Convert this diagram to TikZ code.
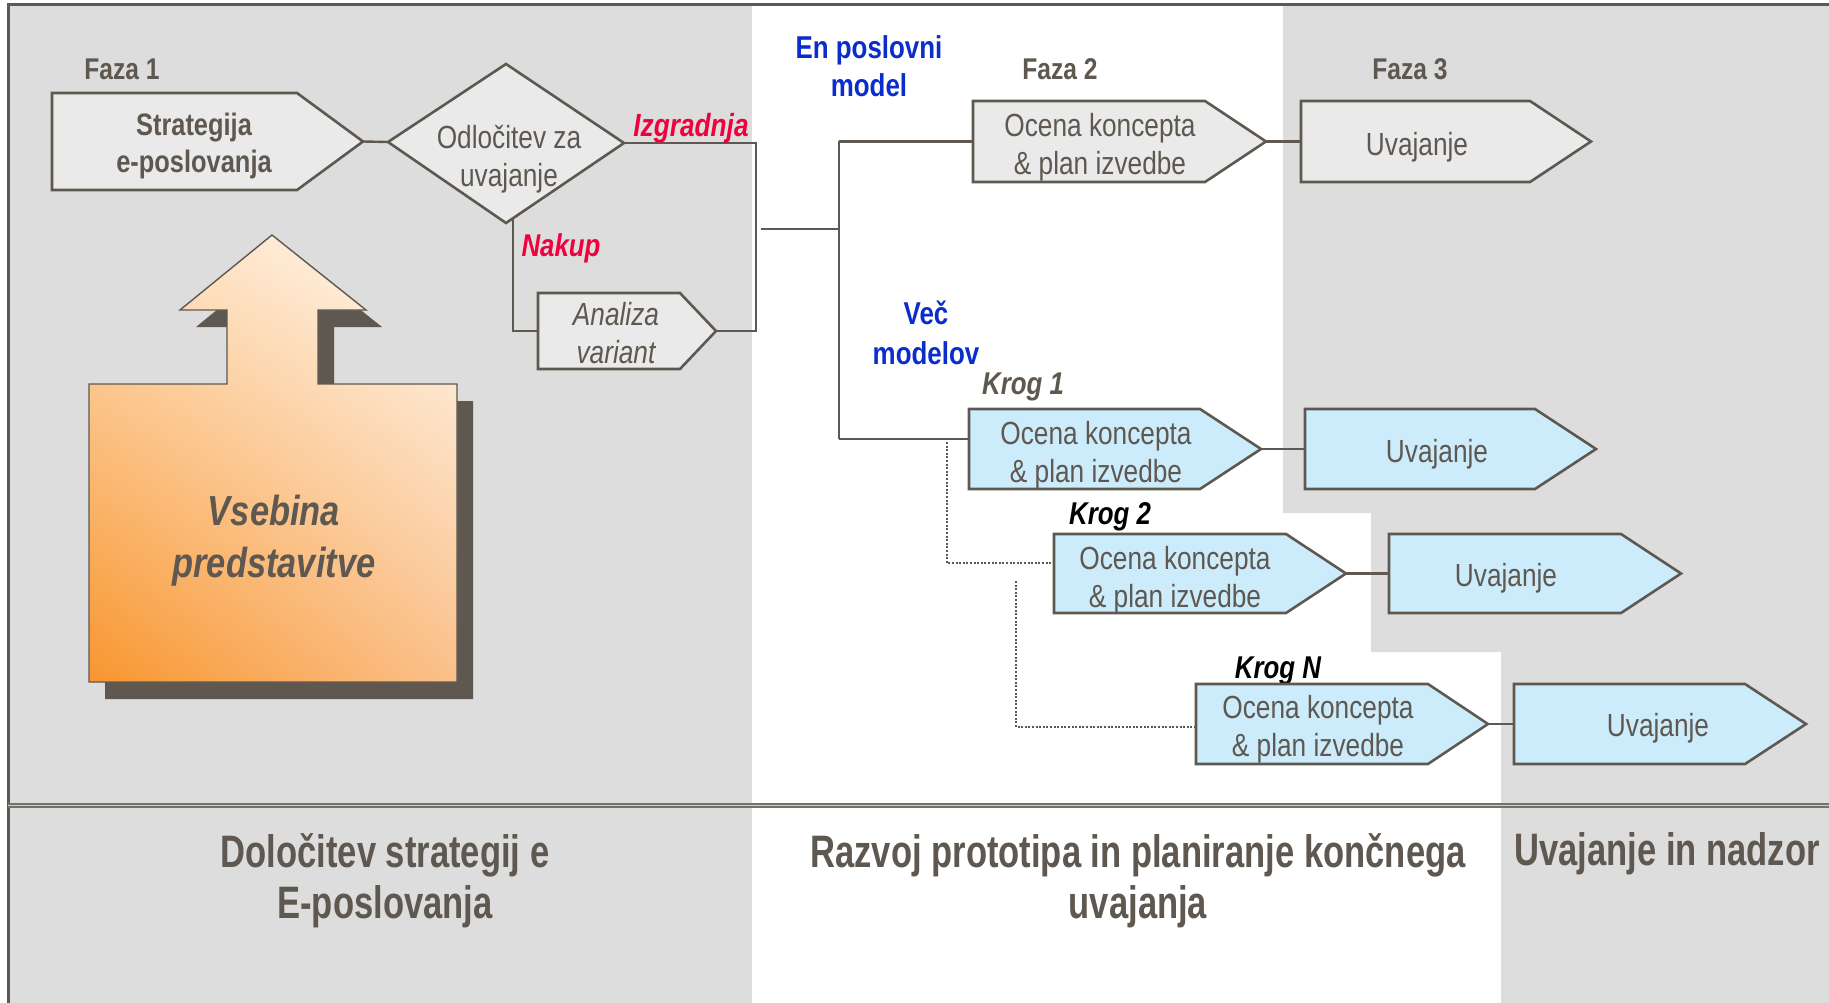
\documentclass[tikz,border=0pt]{standalone}
\usepackage{fontspec}
\usetikzlibrary{shadings}
\setmainfont{Liberation Sans}[FakeStretch=0.82]
\newfontfamily\bigfont{Liberation Sans}[FakeStretch=0.76]
\definecolor{tc}{RGB}{94,88,80}
\definecolor{lc}{RGB}{94,88,80}
\definecolor{bg}{RGB}{221,221,221}
\definecolor{boxgray}{RGB}{234,234,234}
\definecolor{boxblue}{RGB}{204,236,252}
\definecolor{redt}{RGB}{240,0,60}
\definecolor{bluet}{RGB}{10,45,204}
\definecolor{orLL}{HTML}{F8962F}
\definecolor{orUL}{HTML}{FEDDBA}
\definecolor{orUR}{HTML}{FFFAF2}
\definecolor{orLR}{HTML}{FAC08A}
\newcommand\pentbox[7]{%
  \draw[#7] (#2,#5) -- (#3,#5) -- (#4,{(#5+#6)/2}) -- (#3,#6) -- (#2,#6) -- cycle;
  \coordinate (#1-w) at (#2,{(#5+#6)/2});
  \coordinate (#1-e) at (#4,{(#5+#6)/2});
}
\newcommand\arrowpath{(272,235) -- (366,310) -- (318,310) -- (318,384) -- (457,384) -- (457,682) -- (89,682) -- (89,384) -- (227,384) -- (227,310) -- (180,310) -- cycle}
\tikzset{
  gbox/.style={draw=lc, line width=2.6pt, fill=boxgray, line join=miter},
  bbox/.style={draw=lc, line width=2.6pt, fill=boxblue, line join=miter},
  conn/.style={draw=lc, line width=2.4pt},
  dotconn/.style={draw=lc, line width=2pt, dash pattern=on 2pt off 1.6pt},
  treg/.style={text=tc, inner sep=0pt, align=center, font=\fontsize{32}{38}\selectfont},
  tregi/.style={text=tc, inner sep=0pt, align=center, font=\itshape\fontsize{32}{38}\selectfont},
  tbold/.style={text=tc, inner sep=0pt, align=center, font=\bfseries\fontsize{31}{37}\selectfont},
  tbi/.style={inner sep=0pt, align=center, font=\bfseries\itshape\fontsize{31.5}{37}\selectfont},
  tbig/.style={text=tc, inner sep=0pt, align=center, font=\bigfont\bfseries\fontsize{45.5}{51}\selectfont},
}
\begin{document}
\begin{tikzpicture}[x=1pt,y=-1pt]
\useasboundingbox (0,0) rectangle (1829,1003);
% backgrounds
\fill[white] (0,0) rectangle (1829,1003);
\fill[bg] (8,5) rectangle (752,1003);
\fill[bg] (1283,5) -- (1829,5) -- (1829,1003) -- (1501,1003) -- (1501,652) -- (1371,652) -- (1371,513) -- (1283,513) -- cycle;
\draw[lc, line width=3pt] (8,1003) -- (8,5) -- (1829,5);
\draw[lc!85!white, line width=5.5pt] (8,805.5) -- (1829,805.5);
\draw[white!70!lc, line width=1.2pt] (8,805.5) -- (1829,805.5);

% big arrow with shadow
\fill[lc, shift={(16,17)}] \arrowpath;
\shade[lower left=orLL, upper left=orUL, upper right=orUR, lower right=orLR] \arrowpath;
\draw[lc, line width=1.4pt] \arrowpath;
\node[tbi, text=tc, font=\bfseries\itshape\fontsize{42}{52}\selectfont] (vsebina) at (274,541) {Vsebina\\predstavitve};

% Faza 1
\node[tbold, font=\bfseries\fontsize{30}{36}\selectfont] (faza1) at (122,69) {Faza 1};
\pentbox{str}{52}{297}{363}{93}{190}{gbox}
\node[tbold] (strt) at (194,146) {Strategija\\e-poslovanja};

% diamond
\coordinate (dL) at (388,142);
\coordinate (dT) at (506,64);
\coordinate (dR) at (624,143);
\coordinate (dB) at (506,223);
\draw[gbox] (dL) -- (dT) -- (dR) -- (dB) -- cycle;
\node[treg] (odl) at (509,159) {Odločitev za\\uvajanje};
\draw[conn] (str-e) -- (dL);

% Analiza
\pentbox{an}{538}{680}{716}{293}{369}{gbox}
\node[tregi] (ant) at (616,333) {Analiza\\variant};

\coordinate (bus) at (756,143);
\coordinate (nak) at (513,218);
\draw[conn] (dR) -- (bus) |- (an-e);
\draw[conn] (nak) |- (an-w);
\node[tbi, text=redt, font=\bfseries\itshape\fontsize{32}{38}\selectfont] (izg) at (691,128) {Izgradnja};
\node[tbi, text=redt] (nakt) at (561,248) {Nakup};

% junction
\coordinate (j0) at (761,229);
\coordinate (j1) at (839,229);
\coordinate (jt) at (839,141.5);
\coordinate (jb) at (839,439);
\draw[conn] (j0) -- (j1);
\draw[conn] (jt) -- (jb);

\node[tbold, text=bluet, font=\bfseries\fontsize{31.6}{38}\selectfont] (enp) at (869,66) {En poslovni\\model};
\node[tbold, text=bluet, font=\bfseries\fontsize{31.6}{40}\selectfont] (vec) at (926,333) {Več\\modelov};

% Faza 2 / 3
\node[tbold, font=\bfseries\fontsize{30}{36}\selectfont] (faza2) at (1060,69) {Faza 2};
\node[tbold, font=\bfseries\fontsize{30}{36}\selectfont] (faza3) at (1410,69) {Faza 3};
\pentbox{f2}{973}{1205}{1266}{101}{182}{gbox}
\node[treg] (f2t) at (1100,147.5) {Ocena koncepta\\\& plan izvedbe};
\pentbox{f3}{1301}{1530}{1591}{101}{182}{gbox}
\node[treg] (f3t) at (1417,147) {Uvajanje};
\draw[conn] (jt) -- (f2-w);
\draw[conn] (f2-e) -- (f3-w);

% Krog 1
\node[tbi, text=tc] (k1) at (1023,387) {Krog 1};
\pentbox{b1}{969}{1200}{1261}{409}{489}{bbox}
\node[treg] (b1t) at (1096,455) {Ocena koncepta\\\& plan izvedbe};
\pentbox{u1}{1305}{1535}{1596}{409}{489}{bbox}
\node[treg] (u1t) at (1437,454) {Uvajanje};
\coordinate (b1in) at (969,439);
\draw[conn] (jb) -- (b1in);
\draw[conn] (b1-e) -- (u1-w);

% Krog 2
\node[tbi, text=black] (k2) at (1110,517) {Krog 2};
\pentbox{b2}{1054}{1286}{1346}{534}{613}{bbox}
\node[treg] (b2t) at (1175,580) {Ocena koncepta\\\& plan izvedbe};
\pentbox{u2}{1389}{1621}{1681}{534}{613}{bbox}
\node[treg] (u2t) at (1506,578) {Uvajanje};
\draw[conn] (b2-e) -- (u2-w);
\coordinate (d1s) at (947,442);
\coordinate (d1e) at (1054,563);
\draw[dotconn] (d1s) |- (d1e);

% Krog N
\node[tbi, text=black] (kn) at (1278,671) {Krog N};
\pentbox{bn}{1196}{1428}{1488}{684}{764}{bbox}
\node[treg] (bnt) at (1318,729) {Ocena koncepta\\\& plan izvedbe};
\pentbox{un}{1514}{1745}{1806}{684}{764}{bbox}
\node[treg] (unt) at (1658,728) {Uvajanje};
\draw[conn] (bn-e) -- (un-w);
\coordinate (d2s) at (1016,581);
\coordinate (d2e) at (1196,727);
\draw[dotconn] (d2s) |- (d2e);

% bottom labels
\node[tbig] (bl1) at (385,881) {Določitev strategij e\\E-poslovanja};
\node[tbig] (bl2) at (1138,881) {Razvoj prototipa in planiranje končnega\\uvajanja};
\node[tbig] (bl3) at (1667,853.5) {Uvajanje in nadzor};
\end{tikzpicture}
\end{document}
